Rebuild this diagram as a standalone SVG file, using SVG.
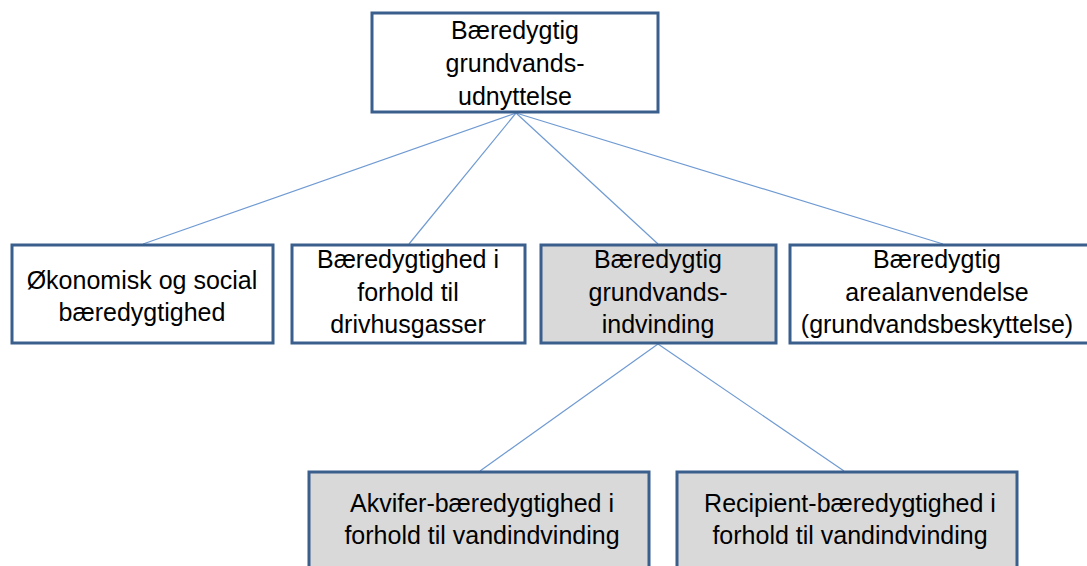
<svg xmlns="http://www.w3.org/2000/svg" width="1087" height="566" viewBox="0 0 1087 566">
<style>
.box{fill:#ffffff;stroke:#3b5f8d;stroke-width:3}
.gray{fill:#d9d9d9}
.t{font-family:"Liberation Sans",Arial,sans-serif;font-size:25px;fill:#000;text-anchor:middle}
.c{stroke:#6f9ad2;stroke-width:1.2;fill:none}
</style>
<rect width="1087" height="566" fill="#ffffff"/>
<g id="connectors">
<line class="c" x1="516" y1="113" x2="143" y2="244"/>
<line class="c" x1="516" y1="113" x2="409" y2="244"/>
<line class="c" x1="516" y1="113" x2="658" y2="244"/>
<line class="c" x1="516" y1="113" x2="943" y2="244"/>
<line class="c" x1="658" y1="344" x2="480" y2="471"/>
<line class="c" x1="658" y1="344" x2="844" y2="471"/>
</g>
<g id="root">
<rect class="box" x="372" y="13" width="286" height="99"/>
<text class="t" x="515" y="39">Bæredygtig</text>
<text class="t" x="515" y="72">grundvands-</text>
<text class="t" x="515" y="105">udnyttelse</text>
</g>
<g id="n1">
<rect class="box" x="12" y="245" width="261" height="98"/>
<text class="t" x="142" y="289">Økonomisk og social</text>
<text class="t" x="142" y="321">bæredygtighed</text>
</g>
<g id="n2">
<rect class="box" x="292" y="245" width="233" height="98"/>
<text class="t" x="408" y="268">Bæredygtighed i</text>
<text class="t" x="408" y="301">forhold til</text>
<text class="t" x="408" y="333">drivhusgasser</text>
</g>
<g id="n3">
<rect class="box gray" x="541" y="245" width="235" height="98"/>
<text class="t" x="658" y="268">Bæredygtig</text>
<text class="t" x="658" y="301">grundvands-</text>
<text class="t" x="658" y="333">indvinding</text>
</g>
<g id="n4">
<rect class="box" x="790" y="245" width="300" height="98"/>
<text class="t" x="937" y="268">Bæredygtig</text>
<text class="t" x="937" y="301">arealanvendelse</text>
<text class="t" x="937" y="333">(grundvandsbeskyttelse)</text>
</g>
<g id="n5">
<rect class="box gray" x="309" y="472" width="340" height="110"/>
<text class="t" x="482" y="512">Akvifer-bæredygtighed i</text>
<text class="t" x="482" y="544">forhold til vandindvinding</text>
</g>
<g id="n6">
<rect class="box gray" x="677" y="472" width="340" height="110"/>
<text class="t" x="850" y="512">Recipient-bæredygtighed i</text>
<text class="t" x="850" y="544">forhold til vandindvinding</text>
</g>
</svg>
